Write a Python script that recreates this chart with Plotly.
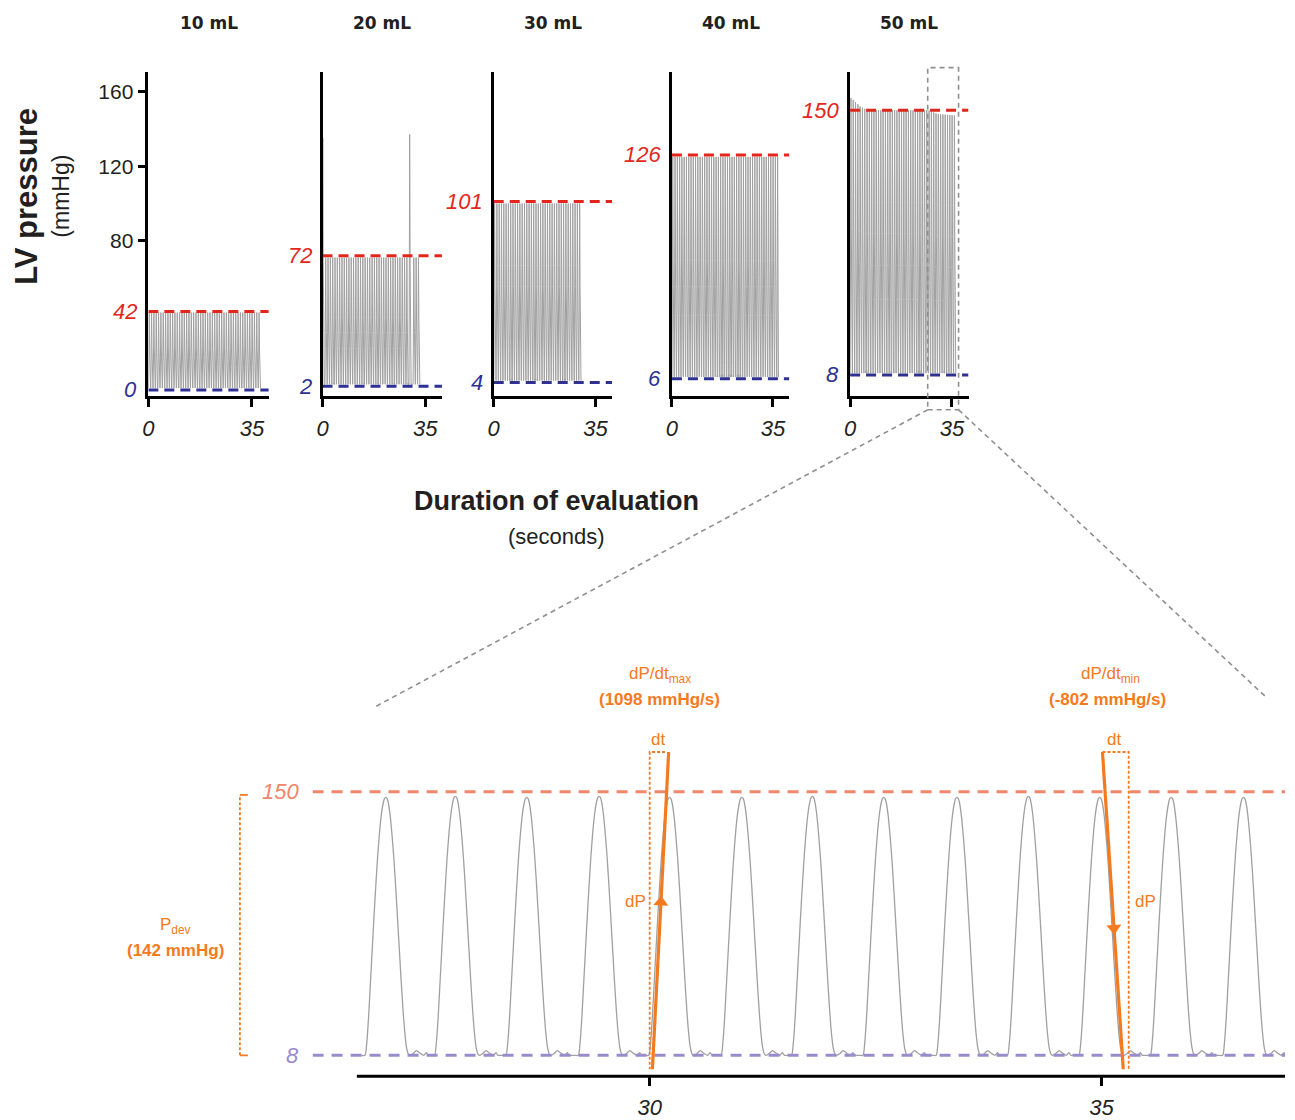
import numpy as np
import plotly.graph_objects as go

W, H = 1295, 1120

# ---------------- data ----------------
volumes = ["10 mL", "20 mL", "30 mL", "40 mL", "50 mL"]
sys_labels = [42, 72, 101, 126, 150]          # red dashed level (mmHg)
dia_labels = [0, 2, 4, 6, 8]                  # blue dashed level (mmHg)
trace_peak = [41.5, 71, 100, 125, 150]        # systolic height of the gray trace
trace_min = [1, 3, 5, 7, 9]                   # diastolic floor of the gray trace
trace_end = [38.4, 33.3, 30.2, 37.0, 36.7]    # last sample of each run (s)
beat_period = [0.79, 0.79, 0.79, 0.79, 0.79]  # beat-to-beat interval (s)
first_beat = [0.3, 0.3, 0.3, 0.3, 0.3]        # first systolic peak (s)
top_xticks = [0, 35]
top_yticks = [80, 120, 160]

# 20 mL run: artefact spikes and the pause around the second one
p2_spike_t = [0.1, 29.7]
p2_spike_p = [135, 137]
p2_gap = [28.9, 30.4]

# 50 mL run: systolic envelope
p5_env_t = [0, 1.5, 3.5, 6, 27, 30, 37]
p5_env_p = [157, 155, 152, 150, 150, 148, 147]

# zoomed window of the 50 mL run
zoom_peak_t = [27.08, 27.85, 28.64, 29.44, 30.22, 31.02, 31.80,
               32.59, 33.40, 34.19, 34.98, 35.77, 36.57]
zoom_peak_p = [147, 147.5, 147, 147.5, 147, 147, 147.5,
               147, 147, 147.5, 147, 147, 147]
zoom_min = 8
zoom_sys = 150
zoom_dia = 8
zoom_xticks = [30, 35]
pdev_value = 142
dpdt_max_value = 1098
dpdt_min_value = -802
dpdt_max_t = [30.03, 30.21]   # tangent drawn on the up-stroke
dpdt_max_p = [0.5, 171.4]
dpdt_min_t = [35.01, 35.24]   # tangent drawn on the down-stroke
dpdt_min_p = [171.4, 0.5]
dpdt_max_box_t = [30.0, 30.17]
dpdt_min_box_t = [35.01, 35.30]

# one beat: offset from the peak (s) and
# fraction of the developed pressure
beat_offsets = [-0.27, -0.23, -0.21, -0.19, -0.17, -0.15, -0.13, -0.11, -0.09,
                -0.07, -0.05, -0.03, -0.015, 0.0, 0.015, 0.03, 0.05, 0.07, 0.09,
                0.11, 0.13, 0.15, 0.17, 0.19, 0.21, 0.23, 0.25, 0.27, 0.30,
                0.34, 0.38, 0.42, 0.45, 0.47]
beat_shape = [0.0, 0.0, 0.05, 0.15, 0.28, 0.41, 0.54, 0.66, 0.77,
              0.86, 0.93, 0.975, 0.995, 1.0, 0.995, 0.975, 0.925, 0.85, 0.76,
              0.65, 0.53, 0.41, 0.29, 0.18, 0.09, 0.03, 0.005, 0.0, 0.006,
              0.018, 0.008, 0.0, 0.01, 0.0]

# ---------------- styling ----------------
NARROW = "Liberation Sans Narrow, Arial Narrow, Liberation Sans, Arial, sans-serif"
SANS = "Liberation Sans, Arial, Helvetica, sans-serif"
RED = "#e3261c"
BLUE = "#2e3192"
SALMON = "#f0866a"
LILAC = "#9a8ccc"
ORANGE = "#f47a20"
GRAY = "#a0a0a0"
INK = "#231f20"

top_dom_x = [(143, 264), (318, 438), (490, 609), (669, 787), (848, 967)]
top_dom_y = (72, 398)
top_xrange = [0, 40.7]
top_yrange = [-3.2, 170.7]
bot_dom_x = (308, 1285)
bot_dom_y = (740, 1082)
bot_xrange = [26.27, 37.03]
bot_yrange = [-3.25, 180.0]


def px(x):
    return x / W


def py(y):
    return 1 - y / H


def build(peak_t, peak_p, base):
    ts, ps = [], []
    order = np.argsort(peak_t)
    off = np.array(beat_offsets)
    shp = np.array(beat_shape)
    for k in order:
        ts.append(peak_t[k] + off)
        ps.append(base + shp * (peak_p[k] - base))
    return np.concatenate(ts), np.concatenate(ps)


fig = go.Figure()
annotations = []
shapes = []

for i in range(5):
    sfx = "" if i == 0 else str(i + 1)
    xa, ya = "x" + sfx, "y" + sfx
    beats = np.arange(first_beat[i], trace_end[i] - 0.3, beat_period[i])
    if i == 4:
        peaks = np.interp(beats, p5_env_t, p5_env_p)
    else:
        peaks = np.full(len(beats), float(trace_peak[i]))
    if i == 1:
        keep = ((beats < p2_gap[0]) | (beats > p2_gap[1])) & (beats > 0.5)
        beats = np.concatenate([beats[keep], p2_spike_t])
        peaks = np.concatenate([peaks[keep], p2_spike_p])
    t, p = build(beats, peaks, trace_min[i])
    m = (t >= 0) & (t <= trace_end[i])
    fig.add_trace(go.Scatter(x=t[m], y=p[m], mode="lines", xaxis=xa, yaxis=ya,
                             line=dict(color=GRAY, width=1.0), hoverinfo="skip"))
    for lvl, col in ((sys_labels[i], RED), (dia_labels[i], BLUE)):
        fig.add_trace(go.Scatter(x=top_xrange, y=[lvl, lvl], mode="lines",
                                 xaxis=xa, yaxis=ya, hoverinfo="skip",
                                 line=dict(color=col, width=3, dash="10px,6px")))
        annotations.append(dict(x=0, y=lvl, xref=xa, yref=ya, text=str(lvl),
                                showarrow=False, xanchor="right", yanchor="middle",
                                xshift=-9,
                                font=dict(family=NARROW, size=22, color=col, style="italic")))
    x0, x1 = top_dom_x[i]
    xa_key = "xaxis" + sfx
    ya_key = "yaxis" + sfx
    fig.layout[xa_key] = dict(domain=[px(x0), px(x1)], range=top_xrange, anchor=ya,
                              showline=True, linecolor="black", linewidth=2.5,
                              ticks="outside", ticklen=8, tickwidth=2.5, tickcolor="black",
                              tickvals=top_xticks, ticktext=[str(v) for v in top_xticks],
                              tickfont=dict(family=NARROW, size=22, color=INK, style="italic"),
                              ticklabelstandoff=3,
                              showgrid=False, zeroline=False, fixedrange=True)
    ydict = dict(domain=[py(top_dom_y[1]), py(top_dom_y[0])], range=top_yrange, anchor=xa,
                 showline=True, linecolor="black", linewidth=2.5,
                 showgrid=False, zeroline=False, fixedrange=True)
    if i == 0:
        ydict.update(ticks="outside", ticklen=8, tickwidth=2.5, tickcolor="black",
                     tickvals=top_yticks, ticktext=[str(v) for v in top_yticks],
                     tickfont=dict(family=NARROW, size=21, color=INK))
    else:
        ydict.update(ticks="", showticklabels=False)
    fig.layout[ya_key] = ydict
    annotations.append(dict(x=px((x0 + x1) / 2), y=py(23), xref="paper", yref="paper",
                            text="<b>%s</b>" % volumes[i], showarrow=False,
                            xanchor="center", yanchor="middle",
                            font=dict(family="DejaVu Sans", size=17, color=INK)))

# ---------------- zoomed panel ----------------
zt, zp = build(zoom_peak_t, zoom_peak_p, zoom_min)
fig.add_trace(go.Scatter(x=zt, y=zp, mode="lines", xaxis="x6", yaxis="y6",
                         line=dict(color=GRAY, width=1.3, shape="spline", smoothing=0.6),
                         hoverinfo="skip"))
for lvl, col in ((zoom_sys, SALMON), (zoom_dia, LILAC)):
    fig.add_trace(go.Scatter(x=bot_xrange, y=[lvl, lvl], mode="lines", xaxis="x6", yaxis="y6",
                             line=dict(color=col, width=3, dash="11px,8px"), hoverinfo="skip"))
    annotations.append(dict(x=px(296), y=lvl, xref="paper", yref="y6", text=str(lvl),
                            showarrow=False, xanchor="right", yanchor="middle",
                            font=dict(family=NARROW, size=22, color=col, style="italic")))

# dP/dt boxes (dotted)
fig.add_trace(go.Scatter(x=[dpdt_max_box_t[1], dpdt_max_box_t[0], dpdt_max_box_t[0]],
                         y=[dpdt_max_p[1], dpdt_max_p[1], dpdt_max_p[0]],
                         mode="lines", xaxis="x6", yaxis="y6", hoverinfo="skip",
                         line=dict(color=ORANGE, width=1.8, dash="3px,2px")))
fig.add_trace(go.Scatter(x=[dpdt_min_box_t[0], dpdt_min_box_t[1], dpdt_min_box_t[1]],
                         y=[dpdt_min_p[0], dpdt_min_p[0], dpdt_min_p[1]],
                         mode="lines", xaxis="x6", yaxis="y6", hoverinfo="skip",
                         line=dict(color=ORANGE, width=1.8, dash="3px,2px")))
# tangents
for tt, pp in ((dpdt_max_t, dpdt_max_p), (dpdt_min_t, dpdt_min_p)):
    fig.add_trace(go.Scatter(x=tt, y=pp, mode="lines", xaxis="x6", yaxis="y6",
                             line=dict(color=ORANGE, width=3.2), hoverinfo="skip"))
# arrow heads at mid-stroke
mid_max_t = float(np.interp(90.5, dpdt_max_p, dpdt_max_t))
mid_min_t = float(np.interp(76.5, dpdt_min_p[::-1], dpdt_min_t[::-1]))
fig.add_trace(go.Scatter(x=[mid_max_t], y=[90.5], mode="markers", xaxis="x6", yaxis="y6",
                         marker=dict(symbol="triangle-up", size=13, color=ORANGE, angle=3),
                         hoverinfo="skip"))
fig.add_trace(go.Scatter(x=[mid_min_t], y=[76.5], mode="markers", xaxis="x6", yaxis="y6",
                         marker=dict(symbol="triangle-down", size=13, color=ORANGE, angle=-3.5),
                         hoverinfo="skip"))

fig.layout["xaxis6"] = dict(domain=[px(bot_dom_x[0]), px(bot_dom_x[1])], range=bot_xrange,
                            anchor="y6", showline=False, ticks="outside", ticklen=9,
                            tickwidth=3, tickcolor="black", tickvals=zoom_xticks,
                            ticktext=[str(v) for v in zoom_xticks],
                            tickfont=dict(family=NARROW, size=22, color=INK, style="italic"),
                            ticklabelstandoff=2,
                            showgrid=False, zeroline=False, fixedrange=True)
fig.layout["yaxis6"] = dict(domain=[py(bot_dom_y[1]), py(bot_dom_y[0])], range=bot_yrange,
                            anchor="x6", visible=False, fixedrange=True)

# bottom axis line (starts where the trace starts)
shapes.append(dict(type="line", xref="x6", yref="paper", x0=26.76, x1=bot_xrange[1],
                   y0=py(bot_dom_y[1]), y1=py(bot_dom_y[1]),
                   line=dict(color="black", width=3)))

# P_dev bracket
shapes.append(dict(type="line", xref="paper", yref="y6", x0=px(235), x1=px(235),
                   y0=zoom_dia, y1=zoom_dia + pdev_value - 1.7,
                   line=dict(color=ORANGE, width=1.8, dash="3px,2px")))
for lvl in (zoom_dia, zoom_dia + pdev_value - 1.7):
    shapes.append(dict(type="line", xref="paper", yref="y6", x0=px(235), x1=px(243),
                       y0=lvl, y1=lvl, line=dict(color=ORANGE, width=1.8)))

# zoom box on the 50 mL run and the connector lines
GREYD = "#8f8f8f"
shapes.append(dict(type="rect", xref="paper", yref="paper", x0=px(926), x1=px(957),
                   y0=py(412), y1=py(68), line=dict(color=GREYD, width=1.6, dash="5px,4px")))
shapes.append(dict(type="line", xref="paper", yref="paper", x0=px(926), y0=py(412),
                   x1=px(372), y1=py(710), line=dict(color=GREYD, width=1.6, dash="5px,4px")))
shapes.append(dict(type="line", xref="paper", yref="paper", x0=px(957), y0=py(412),
                   x1=px(1265), y1=py(700), line=dict(color=GREYD, width=1.6, dash="5px,4px")))

# orange texts
OF = dict(family=SANS, size=17, color=ORANGE)
OFB = dict(family=SANS, size=17, color=ORANGE)
annotations += [
    dict(x=px(657), y=py(679), text="dP/dt<sub>max</sub>", font=OF),
    dict(x=px(657), y=py(703), text="<b>(%d mmHg/s)</b>" % dpdt_max_value, font=OFB),
    dict(x=px(1110), y=py(679), text="dP/dt<sub>min</sub>", font=OF),
    dict(x=px(1107), y=py(703), text="<b>(%d mmHg/s)</b>" % dpdt_min_value, font=OFB),
    dict(x=px(655), y=py(743), text="dt", font=OF),
    dict(x=px(1113), y=py(743), text="dt", font=OF),
    dict(x=px(632), y=py(906), text="dP", font=OF),
    dict(x=px(1145), y=py(906), text="dP", font=OF),
    dict(x=px(170), y=py(931), text="P<sub>dev</sub>", font=OF),
    dict(x=px(170), y=py(956), text="<b>(%d mmHg)</b>" % pdev_value, font=OFB),
]
for a in annotations[-10:]:
    a.update(xref="paper", yref="paper", showarrow=False, xanchor="center", yanchor="middle")

# axis titles
annotations += [
    dict(x=px(21), y=py(197), xref="paper", yref="paper", text="<b>LV pressure</b>",
         textangle=-90, showarrow=False, xanchor="center", yanchor="middle",
         font=dict(family=SANS, size=31, color=INK)),
    dict(x=px(55), y=py(197), xref="paper", yref="paper", text="(mmHg)",
         textangle=-90, showarrow=False, xanchor="center", yanchor="middle",
         font=dict(family=SANS, size=23, color=INK)),
    dict(x=px(553), y=py(504), xref="paper", yref="paper", text="<b>Duration of evaluation</b>",
         showarrow=False, xanchor="center", yanchor="middle",
         font=dict(family=SANS, size=27, color=INK)),
    dict(x=px(553), y=py(539), xref="paper", yref="paper", text="(seconds)",
         showarrow=False, xanchor="center", yanchor="middle",
         font=dict(family=SANS, size=22, color=INK)),
]

fig.update_layout(width=W, height=H, margin=dict(l=0, r=0, t=0, b=0),
                  paper_bgcolor="white", plot_bgcolor="rgba(0,0,0,0)",
                  showlegend=False, annotations=annotations, shapes=shapes)

fig.write_html("out.html", config={"displayModeBar": False},
               post_script="document.body.style.margin='0';document.body.style.overflow='hidden';")
